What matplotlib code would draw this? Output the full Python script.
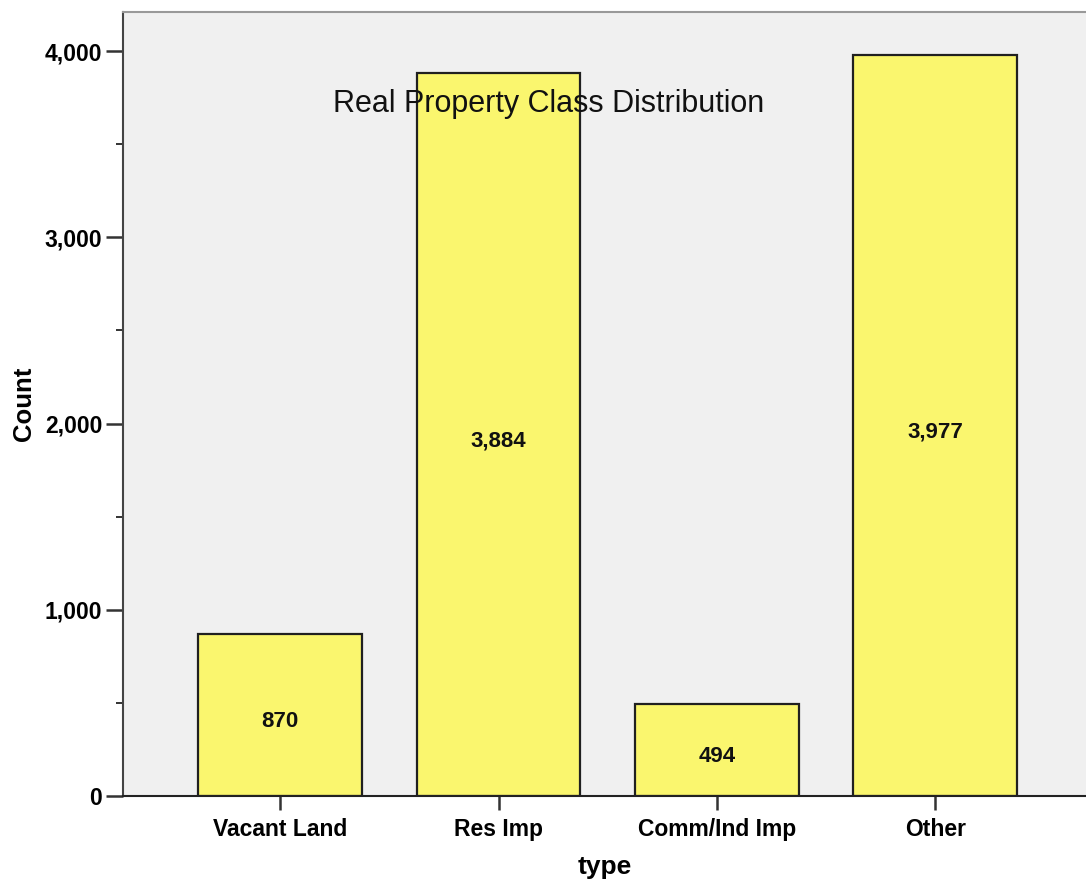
import matplotlib
matplotlib.use("Agg")
import matplotlib.pyplot as plt
from matplotlib.ticker import MultipleLocator, FuncFormatter

# 데이터
categories = ["Vacant Land", "Res Imp", "Comm/Ind Imp", "Other"]
counts = [870, 3884, 494, 3977]
value_labels = ["870", "3,884", "494", "3,977"]

plt.rcParams["font.family"] = ["Liberation Sans", "DejaVu Sans"]

fig = plt.figure(figsize=(10.86, 8.8), dpi=100)
ax = fig.add_axes([123 / 1086, 84 / 880, 1 - 123 / 1086, 784 / 880])
ax.set_facecolor("#f0f0f0")

x = list(range(len(categories)))
ax.bar(x, counts, width=0.75, color="#faf66e", edgecolor="#202020", linewidth=1.6, zorder=2)

# 막대 중앙에 값 표시
for xi, c, lab in zip(x, counts, value_labels):
    ax.annotate(lab, xy=(xi, c / 2), xytext=(0, -4.5), textcoords="offset points",
                ha="center", va="center", fontsize=16, fontweight="bold", color="#111111")

ax.set_xlim(-0.72, 3.69)
ax.set_ylim(0, 4210)
ax.set_xticks(x)
ax.set_xticklabels(categories, fontsize=16.5, fontweight="bold")
ax.yaxis.set_major_locator(MultipleLocator(1000))
ax.yaxis.set_minor_locator(MultipleLocator(500))
ax.yaxis.set_major_formatter(FuncFormatter(lambda v, p: f"{int(v):,}"))
for t in ax.get_yticklabels():
    t.set_fontsize(16.5)
    t.set_fontweight("bold")

ax.tick_params(axis="y", which="major", length=12, width=1.8, color="#333333", pad=3)
ax.tick_params(axis="y", which="minor", length=5, width=1.4, color="#333333")
ax.tick_params(axis="x", which="major", length=10, width=1.8, color="#333333", pad=6)

ax.spines["right"].set_visible(False)
ax.spines["top"].set_color("#999999")
ax.spines["top"].set_linewidth(1.5)
ax.spines["left"].set_color("#444444")
ax.spines["left"].set_linewidth(1.5)
ax.spines["bottom"].set_color("#222222")
ax.spines["bottom"].set_linewidth(1.5)

ax.set_ylabel("Count", fontsize=18.5, fontweight="bold", labelpad=6)
ax.set_xlabel("type", fontsize=19, fontweight="bold", labelpad=10)

fig.text(549 / 1086, 1 - 104 / 880, "Real Property Class Distribution", ha="center", va="center",
         fontsize=22, color="#111111")

fig.savefig("out.png", dpi=100)
